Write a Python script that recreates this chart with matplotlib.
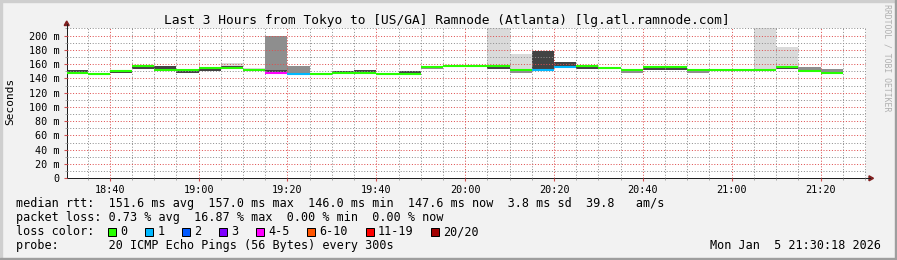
import datetime as dt
import numpy as np
import matplotlib
matplotlib.use("Agg")
import matplotlib.pyplot as plt
import matplotlib.dates as mdates
from matplotlib.patches import Rectangle, Polygon
from matplotlib.ticker import MultipleLocator, FuncFormatter

W, H = 897, 260
MONO = "DejaVu Sans Mono"
plt.rcParams["font.family"] = [MONO, "DejaVu Sans"]

title = "Last 3 Hours from Tokyo to [US/GA] Ramnode (Atlanta) [lg.atl.ramnode.com]"
stats_rtt = "median rtt:  151.6 ms avg  157.0 ms max  146.0 ms min  147.6 ms now  3.8 ms sd  39.8   am/s"
stats_loss = "packet loss: 0.73 % avg  16.87 % max  0.00 % min  0.00 % now"
probe = "probe:       20 ICMP Echo Pings (56 Bytes) every 300s"
stamp = "Mon Jan  5 21:30:18 2026"

loss_labels = ["0", "1", "2", "3", "4-5", "6-10", "11-19", "20/20"]
loss_colors = ["#26ff00", "#00b8ff", "#0059ff", "#7e00ff", "#ff00ff", "#ff5500", "#ff0000", "#a10000"]

nan = np.nan
# one value per 5 minute step, first step starts at 18:30 (ms)
median = [148.0, 146.0, 150.5, 157.0, 151.3, 151.3, 154.5, 154.0, 152.0, 148.2,
          146.0, 146.0, 148.2, 148.2, 146.0, 146.0, 156.0, 157.0, 157.0, 157.0,
          151.7, 152.4, 156.5, 157.0, 154.0, 151.7, 155.5, 155.5, 151.3, 151.3,
          151.7, 151.7, 156.0, 150.3, 147.6]
# index into loss_labels
loss = [0, 0, 0, 0, 0, 0, 0, 0, 0, 4,
        1, 0, 0, 0, 0, 0, 0, 0, 0, 0,
        0, 1, 1, 0, 0, 0, 0, 0, 0, 0,
        0, 0, 0, 0, 0]

# smoke: outer (light), middle and inner (dark) ping spread
light_lo = [nan, nan, nan, nan, nan, nan, nan, 153, 151.5, nan,
            nan, nan, nan, nan, nan, 146, nan, nan, nan, 153,
            148, nan, nan, nan, nan, nan, nan, nan, nan, nan,
            nan, 151.5, 152.5, nan, nan]
light_hi = [nan, nan, nan, nan, nan, nan, nan, 162, 154, nan,
            nan, nan, nan, nan, nan, 151, nan, nan, nan, 230,
            174, nan, nan, nan, nan, nan, nan, nan, nan, nan,
            nan, 230, 184, nan, nan]
mid_lo = [nan, nan, nan, nan, nan, nan, nan, nan, nan, 150,
          147, nan, nan, nan, nan, nan, 152.5, nan, nan, nan,
          148, nan, 154, nan, nan, 147.5, nan, nan, 147, nan,
          nan, nan, nan, 150, 148]
mid_hi = [nan, nan, nan, nan, nan, nan, nan, nan, nan, 199,
          157, nan, nan, nan, nan, nan, 156.5, nan, nan, nan,
          151.5, nan, 156.5, nan, nan, 152, nan, nan, 151.5, nan,
          nan, nan, nan, 156, 153]
dark_lo = [147.5, nan, 147.5, 153, 151, 147, 151, 153, nan, 148,
           nan, nan, 148, 148, nan, 146, nan, nan, nan, 153,
           nan, 150, 156, 153.5, nan, nan, 151.5, 152, nan, nan,
           nan, nan, 152.6, 149.5, nan]
dark_hi = [151.5, nan, 151, 158, 157, 151.5, 154.5, 158, nan, 152,
           nan, nan, 151, 152, nan, 150, nan, nan, nan, 157,
           nan, 178, 163, 157.5, nan, nan, 157, 158, nan, nan,
           nan, nan, 156.5, 152, nan]

t0 = dt.datetime(2026, 1, 5, 18, 30)
starts = mdates.date2num([t0 + i * dt.timedelta(minutes=5) for i in range(len(median))])
width = 5 / 1440

fig = plt.figure(figsize=(W / 100, H / 100), dpi=100, facecolor="#f2f2f2")
ax = fig.add_axes([66.7 / W, 1 - 178.3 / H, 799.6 / W, 149.9 / H])

for lo, hi, col in ((light_lo, light_hi, "#dadada"),
                    (mid_lo, mid_hi, "#8e8e8e"),
                    (dark_lo, dark_hi, "#434343")):
    lo = np.array(lo)
    hi = np.array(hi)
    m = ~np.isnan(lo)
    ax.bar(starts[m], hi[m] - lo[m], bottom=lo[m], width=width, align="edge",
           color=col, linewidth=0, zorder=1)

ax.hlines(median, starts, starts + width, colors=[loss_colors[i] for i in loss],
          linewidth=1.5, zorder=3)

ax.set_xlim(mdates.date2num(dt.datetime(2026, 1, 5, 18, 30, 18)),
            mdates.date2num(dt.datetime(2026, 1, 5, 21, 30, 18)))
ax.set_ylim(0, 210)

ax.xaxis.set_major_locator(mdates.MinuteLocator(byminute=[0, 20, 40]))
ax.xaxis.set_minor_locator(mdates.MinuteLocator(byminute=range(0, 60, 5)))
ax.xaxis.set_major_formatter(mdates.DateFormatter("%H:%M"))
ax.yaxis.set_major_locator(MultipleLocator(20))
ax.yaxis.set_minor_locator(MultipleLocator(10))
ax.yaxis.set_major_formatter(FuncFormatter(lambda v, p: "0" if v == 0 else f"{v:.0f} m"))

ax.set_axisbelow(False)
ax.grid(True, which="major", color=(0.87, 0.31, 0.31, 0.4), linestyle=(0, (1, 1.8)), linewidth=0.72)
ax.grid(True, which="minor", color=(0.56, 0.56, 0.56, 0.35), linestyle=(0, (1, 1.8)), linewidth=0.72)

ax.tick_params(which="both", labelsize=7.3, direction="out")
ax.tick_params(axis="x", which="major", length=2.5, color="#d05050", pad=2)
ax.tick_params(axis="x", which="minor", length=1.5, color="#999999")
ax.tick_params(axis="y", which="major", length=2.5, color="#d05050", pad=2.5)
ax.tick_params(axis="y", which="minor", length=1.5, color="#999999")

for s in ("top", "right"):
    ax.spines[s].set_visible(False)
for s in ("left", "bottom"):
    ax.spines[s].set_color("#1f1f1f")
    ax.spines[s].set_linewidth(0.72)

# pixel overlay for frame, arrows and legend
pix = fig.add_axes([0, 0, 1, 1], facecolor="none")
pix.set_xlim(0, W)
pix.set_ylim(H, 0)
pix.axis("off")

pix.add_patch(Rectangle((0, 0), W, 2, color="#cfcfcf"))
pix.add_patch(Rectangle((0, 0), 2, H, color="#cfcfcf"))
pix.add_patch(Rectangle((0, H - 2), W, 2, color="#9e9e9e"))
pix.add_patch(Rectangle((W - 2, 0), 2, H, color="#9e9e9e"))

pix.plot([66.7, 66.7], [28.4, 24], color="#1f1f1f", lw=0.72)
pix.plot([866.3, 870], [178.3, 178.3], color="#1f1f1f", lw=0.72)
pix.add_patch(Polygon([[64.2, 25.5], [69.2, 25.5], [66.7, 21]], color="#801f1f"))
pix.add_patch(Polygon([[869, 175.8], [869, 180.8], [873.5, 178.3]], color="#801f1f"))

pix.text(446.7, 24, title, ha="center", va="baseline", fontsize=9.25)
pix.text(10.5, 101.5, "Seconds", ha="center", va="center", rotation=90, fontsize=8)
pix.text(887.5, 4, "RRDTOOL / TOBI OETIKER", ha="center", va="top", rotation=270,
         fontsize=5.9, color="#b0b0b0")

fs = 8.5
pix.text(15.5, 207.3, stats_rtt, ha="left", va="baseline", fontsize=fs)
pix.text(15.5, 221.3, stats_loss, ha="left", va="baseline", fontsize=fs)
pix.text(15.5, 235.3, "loss color:", ha="left", va="baseline", fontsize=fs)
pix.text(15.5, 249.3, probe, ha="left", va="baseline", fontsize=fs)
pix.text(881, 249.3, stamp, ha="right", va="baseline", fontsize=fs)

bx = 108
for lab, col in zip(loss_labels, loss_colors):
    pix.add_patch(Rectangle((bx, 228.3), 8, 8, facecolor=col, edgecolor="black", lw=0.72))
    pix.text(bx + 12.5, 235.3, lab, ha="left", va="baseline", fontsize=fs)
    bx += 29.9 + len(lab) * 7.1

fig.savefig("out.png", dpi=100, facecolor=fig.get_facecolor())
